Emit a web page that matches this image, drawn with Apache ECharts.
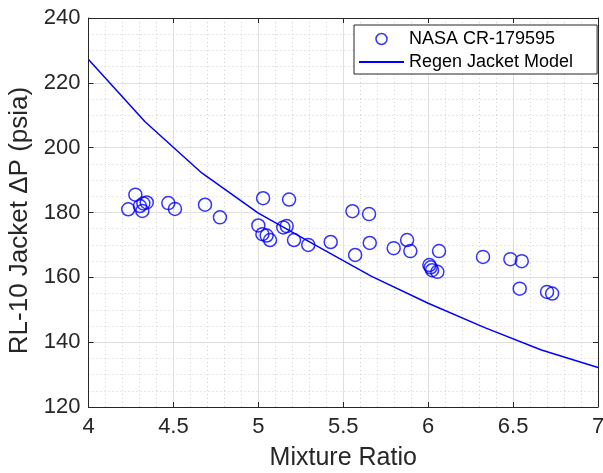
<!DOCTYPE html>
<html>
<head>
<meta charset="utf-8">
<script src="https://cdn.jsdelivr.net/npm/echarts@6/dist/echarts.min.js"></script>
<style>
  html, body { margin: 0; padding: 0; background: #fff; }
  #chart { width: 603px; height: 473px; }
</style>
</head>
<body>
<div id="chart"></div>
<script>
// test data (mixture ratio, jacket dP in psia)
var testMR = [4.234, 4.276, 4.303, 4.317, 4.323, 4.343, 4.470, 4.509, 4.686, 4.774,
  5.000, 5.028, 5.024, 5.049, 5.069, 5.147, 5.167, 5.181, 5.210, 5.294, 5.426,
  5.554, 5.652, 5.570, 5.656, 5.797, 5.876, 5.895, 6.007, 6.015, 6.023, 6.054,
  6.064, 6.323, 6.484, 6.551, 6.539, 6.700, 6.730];
var testDP = [181.0, 185.5, 182.0, 180.5, 182.8, 183.1, 182.9, 181.1, 182.4, 178.5,
  176.0, 184.4, 173.3, 172.9, 171.5, 175.4, 175.8, 184.0, 171.5, 170.0, 170.9,
  180.4, 179.5, 166.9, 170.6, 169.0, 171.5, 168.1, 163.8, 163.1, 162.2, 161.7,
  168.1, 166.3, 165.6, 165.0, 156.5, 155.5, 155.0];

// model curve
var modelMR = [4.0, 4.333, 4.667, 5.0, 5.333, 5.667, 6.0, 6.333, 6.667, 7.0];
var modelDP = [227.2, 208.0, 192.2, 179.8, 170.0, 160.3, 152.0, 144.5, 137.6, 132.2];

var seriesNames = ['NASA CR-179595', 'Regen Jacket Model'];

var txt = '#262626';
var fnt = 'Liberation Sans, Arial, sans-serif';

var testPts = testMR.map(function (x, i) { return [x, testDP[i]]; });
var modelPts = modelMR.map(function (x, i) { return [x, modelDP[i]]; });

var myChart = echarts.init(document.getElementById('chart'));
myChart.setOption({
  animation: false,
  textStyle: { fontFamily: fnt, color: txt },
  grid: { left: 88.5, right: 5, top: 18, bottom: 66, containLabel: false, outerBoundsMode: 'none' },
  legend: {
    orient: 'vertical',
    left: 354,
    top: 25,
    padding: [5, 24, 3, 4],
    itemGap: 5,
    itemWidth: 45,
    itemHeight: 11,
    backgroundColor: '#fff',
    borderColor: txt,
    borderWidth: 1,
    borderRadius: 0,
    textStyle: { fontSize: 18, color: '#000', fontFamily: fnt },
    data: [
      { name: seriesNames[0], icon: 'circle', itemStyle: { color: 'transparent', borderColor: '#0000ff', borderWidth: 1.5 } },
      { name: seriesNames[1], itemStyle: { color: 'transparent', borderColor: 'transparent', borderWidth: 0 } }
    ]
  },
  xAxis: [{
    type: 'value',
    min: 4, max: 7, interval: 0.5,
    name: 'Mixture Ratio',
    nameLocation: 'middle',
    nameGap: 39,
    nameTextStyle: { fontSize: 25, color: txt },
    axisLine: { onZero: false, lineStyle: { color: txt } },
    axisTick: { inside: true, length: 5, lineStyle: { color: txt } },
    axisLabel: { fontSize: 22, color: txt, margin: 9 },
    splitLine: { show: true, lineStyle: { color: '#dfdfdf' } },
    minorTick: { show: false, splitNumber: 5 },
    minorSplitLine: { show: true, lineStyle: { color: '#d0d0d0', type: [1, 3] } }
  }, {
    type: 'value', position: 'top',
    min: 4, max: 7, interval: 0.5,
    axisLine: { onZero: false, lineStyle: { color: txt } },
    axisTick: { inside: true, length: 5, lineStyle: { color: txt } },
    axisLabel: { show: false },
    splitLine: { show: false }
  }],
  yAxis: [{
    type: 'value',
    min: 120, max: 240, interval: 20,
    name: 'RL-10 Jacket ΔP (psia)',
    nameLocation: 'middle',
    nameGap: 49,
    nameTextStyle: { fontSize: 26, color: txt, padding: [0, 16, 0, 0] },
    axisLine: { show: true, onZero: false, lineStyle: { color: txt } },
    axisTick: { show: true, inside: true, length: 5, lineStyle: { color: txt } },
    axisLabel: { fontSize: 22, color: txt, margin: 8 },
    splitLine: { show: true, lineStyle: { color: '#dfdfdf' } },
    minorTick: { show: false, splitNumber: 4 },
    minorSplitLine: { show: true, lineStyle: { color: '#d0d0d0', type: [1, 3] } }
  }, {
    type: 'value', position: 'right',
    min: 120, max: 240, interval: 20,
    axisLine: { show: true, onZero: false, lineStyle: { color: txt } },
    axisTick: { show: true, inside: true, length: 5, lineStyle: { color: txt } },
    axisLabel: { show: false },
    splitLine: { show: false }
  }],
  series: [{
    name: seriesNames[0],
    type: 'scatter',
    data: testPts,
    symbol: 'circle',
    symbolSize: 13,
    itemStyle: { color: 'transparent', borderColor: '#0000ff', borderWidth: 1.5 },
    z: 3
  }, {
    name: seriesNames[1],
    type: 'line',
    data: modelPts,
    symbol: 'none',
    lineStyle: { color: '#0000ff', width: 1.5 },
    itemStyle: { color: '#0000ff' },
    z: 2
  }]
});
</script>
</body>
</html>
